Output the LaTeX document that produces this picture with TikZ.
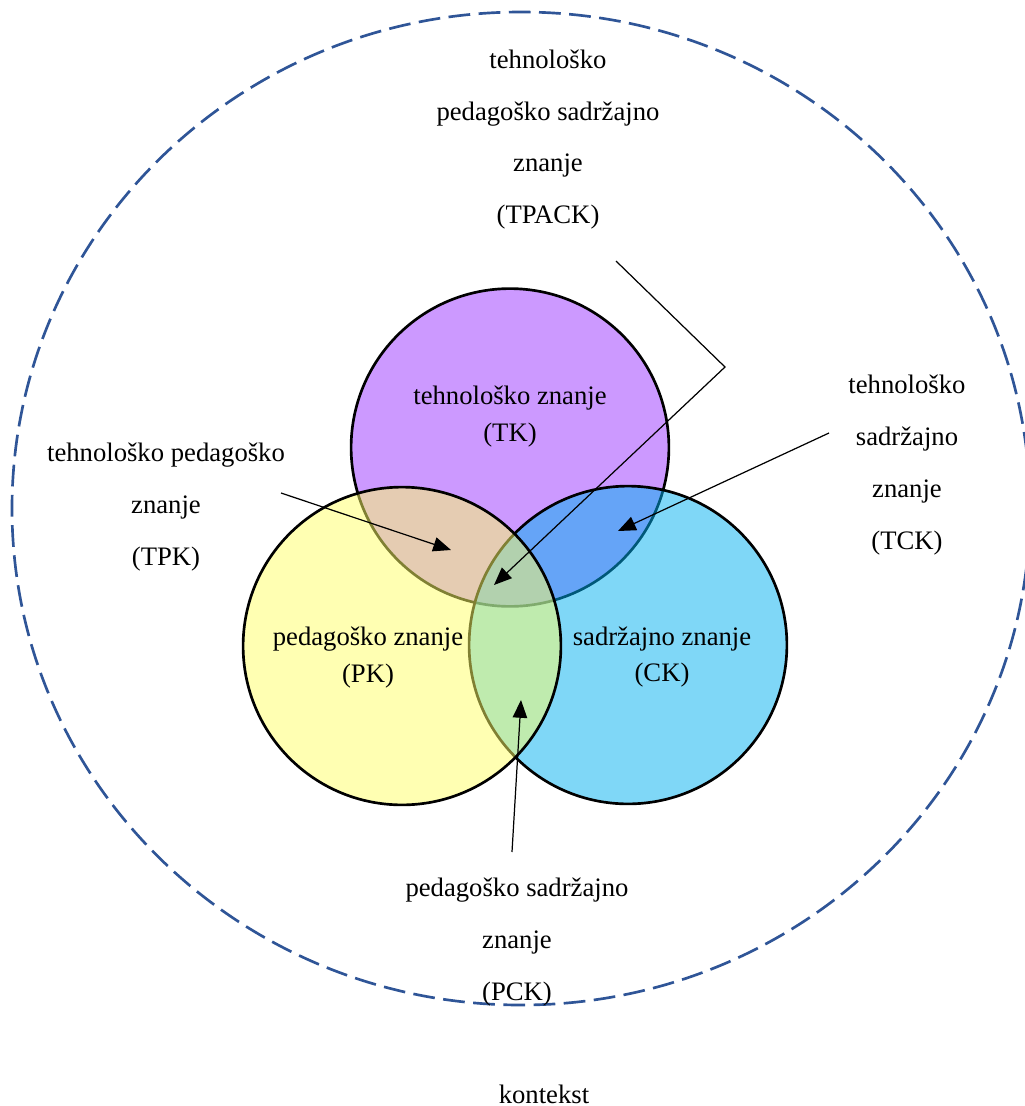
\documentclass[tikz,border=0pt]{standalone}
\usepackage{fontspec}
\setmainfont{Liberation Serif}
\usetikzlibrary{arrows.meta, positioning, shapes}
\definecolor{tkcol}{HTML}{9933FF}
\definecolor{ckcol}{HTML}{00B0F0}
\definecolor{pkcol}{HTML}{FFFF66}
\definecolor{ctxcol}{HTML}{2F5597}
\tikzset{
  venn/.style={circle, draw=black, line width=1.2pt, fill opacity=0.5, minimum size=143pt, inner sep=0pt},
  lbl/.style={align=center, font=\fontsize{12}{23.3}\selectfont},
  inlbl/.style={align=center, font=\fontsize{12}{16.6}\selectfont},
  pointer/.style={-{Triangle[length=8pt,width=6.5pt]}, line width=0.55pt},
}
\begin{document}
\begin{tikzpicture}[x=0.45pt,y=-0.45pt]
    \useasboundingbox (0,0) rectangle (1025,1106);
    % context
    \draw[ctxcol, line width=1.2pt, dash pattern=on 9.8pt off 3.8pt] (521,508.5) ellipse [x radius=509, y radius=496.5];
    % the three circles
    \foreach \nm/\x/\y/\col in {tk/510/447.5/tkcol, ck/628/645/ckcol, pk/402/646/pkcol}
    \node[venn, fill=\col] (\nm) at (\x,\y) {};
    %
    \node[inlbl] (tk label) at (510,416.5) {tehnološko znanje\\(TK)};
    \node[inlbl] (pk label) at (368,657.5) {pedagoško znanje\\(PK)};
    \node[inlbl] (ck label) at (662,657) {sadržajno znanje\\(CK)};
    %
    \node[lbl] (tpack) at (548,139.5) {tehnološko\\pedagoško sadržajno\\znanje\\(TPACK)};
    \node[lbl] (tpk) at (166,507) {tehnološko pedagoško\\znanje\\(TPK)};
    \node[lbl] (tck) at (907,465) {tehnološko\\sadržajno\\znanje\\(TCK)};
    \node[lbl] (pck) at (517,942) {pedagoško sadržajno\\znanje\\(PCK)};
    \node[lbl] (kontekst) at (544,1094) {kontekst};
    % pointers
    \coordinate (tpack tail) at (616,261);
    \coordinate (tpack bend) at (725,367);
    \coordinate (tpack tip) at (494,585);
    \coordinate (tpk tail) at (281,493);
    \coordinate (tpk tip) at (451,550);
    \coordinate (tck tail) at (829,433);
    \coordinate (tck tip) at (618,531);
    \coordinate (pck tail) at (512,852);
    \coordinate (pck tip) at (521,700);
    \draw[pointer] (tpack tail) -- (tpack bend) -- (tpack tip);
    \draw[pointer] (tpk tail) -- (tpk tip);
    \draw[pointer] (tck tail) -- (tck tip);
    \draw[pointer] (pck tail) -- (pck tip);
\end{tikzpicture}
\end{document}
